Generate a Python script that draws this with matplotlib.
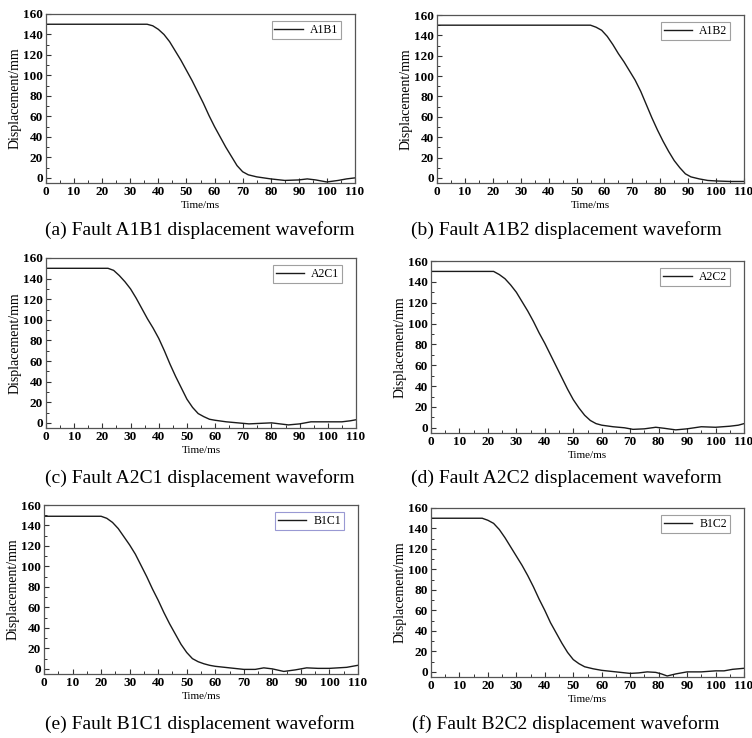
import numpy as np
import matplotlib.pyplot as plt
from matplotlib.ticker import MultipleLocator

plt.rcParams['font.family'] = ['Liberation Serif', 'DejaVu Serif']

# time (ms) / displacement (mm)
t_a1b1 = [0, 36, 38, 40, 42, 44, 46, 48, 50, 52, 54, 56, 58, 60, 62, 64, 66, 68, 70, 72, 75, 80, 85, 90, 93, 96, 100, 104, 107, 110]
d_a1b1 = [150, 150, 148.5, 145, 140, 133, 124, 115, 105, 95, 84, 73, 61, 50, 40, 30, 21, 12, 6, 3, 1, -1, -2.5, -2, -1, -2, -4, -2.5, -1, 0]

t_a1b2 = [0, 55, 57, 59, 61, 63, 65, 67, 69, 71, 73, 75, 77, 79, 81, 83, 85, 87, 89, 91, 94, 97, 100, 105, 110]
d_a1b2 = [150, 150, 148, 145, 139, 131, 122, 114, 105, 96, 85, 72, 59, 47, 36, 26, 17, 10, 4, 1, -1, -2.5, -3, -3.5, -3.5]

t_a2c1 = [0, 22, 24, 26, 28, 30, 32, 34, 36, 38, 40, 42, 44, 46, 48, 50, 52, 54, 56, 58, 60, 64, 68, 72, 76, 80, 83, 86, 90, 94, 100, 105, 108, 110]
d_a2c1 = [150, 150, 148, 143, 137, 130, 121, 111, 101, 92, 82, 70, 57, 45, 34, 23, 15, 9, 6, 3.5, 2.5, 1, 0, -1, -0.5, 0, -1, -2, -1, 1, 1, 1, 2, 3]

t_a2c2 = [0, 22, 24, 26, 28, 30, 32, 34, 36, 38, 40, 42, 44, 46, 48, 50, 52, 54, 56, 58, 60, 64, 68, 71, 75, 79, 82, 86, 90, 95, 100, 105, 108, 110]
d_a2c2 = [150, 150, 147, 143, 137, 130, 121, 112, 102, 91, 81, 70, 59, 48, 37, 27, 19, 12, 7, 4, 2.5, 1, 0, -1.5, -1, 0.5, -0.5, -2, -1, 1, 0.5, 1.5, 2.5, 4]

t_b1c1 = [0, 20, 22, 24, 26, 28, 30, 32, 34, 36, 38, 40, 42, 44, 46, 48, 50, 52, 54, 56, 58, 60, 65, 70, 74, 77, 80, 84, 88, 92, 96, 100, 106, 110]
d_b1c1 = [149, 149, 147, 143, 137, 129, 121, 112, 101, 90, 78, 67, 55, 44, 34, 24, 16, 10, 7, 5, 3.5, 2.5, 1, -0.5, -0.5, 1, 0, -2.5, -1, 1, 0.5, 0.5, 1.5, 3.5]

t_b1c2 = [0, 18, 20, 22, 24, 26, 28, 30, 32, 34, 36, 38, 40, 42, 44, 46, 48, 50, 52, 54, 57, 60, 65, 70, 73, 76, 79, 81, 83, 86, 90, 95, 100, 103, 106, 110]
d_b1c2 = [150, 150, 148, 145, 139, 131, 122, 113, 104, 94, 83, 71, 60, 48, 38, 28, 19, 12, 8, 5, 3, 1.5, 0, -1.5, -1, 0, -0.5, -2, -4, -2, 0, 0, 1, 1, 2.5, 3.5]

names = ['A1B1', 'A1B2', 'A2C1', 'A2C2', 'B1C1', 'B1C2']
captions = ['(a) Fault A1B1 displacement waveform', '(b) Fault A1B2 displacement waveform',
            '(c) Fault A2C1 displacement waveform', '(d) Fault A2C2 displacement waveform',
            '(e) Fault B1C1 displacement waveform', '(f) Fault B2C2 displacement waveform']
times = [t_a1b1, t_a1b2, t_a2c1, t_a2c2, t_b1c1, t_b1c2]
disps = [d_a1b1, d_a1b2, d_a2c1, d_a2c2, d_b1c1, d_b1c2]

W, H = 752, 738
# axes boxes in pixels: x0, y0 (top), x1, y1 (bottom)
boxes = [(46, 14, 355, 183), (437, 15, 744, 183),
         (46, 258, 356, 428), (431, 261, 744, 433),
         (44, 505, 358, 674), (431, 508, 744, 677)]
cap_x = [200, 566, 200, 566, 200, 566]
cap_y = [230, 230, 478, 478, 724, 724]
legend_edges = ['#888888', '#888888', '#888888', '#888888', '#8080c8', '#888888']

fig = plt.figure(figsize=(W / 100, H / 100), dpi=100)

for i in range(6):
	x0, y0, x1, y1 = boxes[i]
	ax = fig.add_axes([x0 / W, 1 - y1 / H, (x1 - x0) / W, (y1 - y0) / H])
	ax.plot(times[i], disps[i], color='#1a1a1a', lw=1.0, label=names[i])
	ax.set_xlim(0, 110)
	ax.set_ylim(-5, 160)
	ax.xaxis.set_major_locator(MultipleLocator(10))
	ax.xaxis.set_minor_locator(MultipleLocator(5))
	ax.yaxis.set_major_locator(MultipleLocator(20))
	ax.yaxis.set_minor_locator(MultipleLocator(10))
	ax.tick_params(which='both', direction='in', top=False, right=False, color='#333333')
	ax.tick_params(which='major', length=3.5, width=0.8, labelsize=9.5, pad=2)
	ax.tick_params(which='minor', length=2, width=0.7)
	for lab in ax.get_xticklabels() + ax.get_yticklabels():
		lab.set_fontweight('bold')
	for s in ax.spines.values():
		s.set_color('#555555')
		s.set_linewidth(0.9)
	ax.set_xlabel('Time/ms', fontsize=8, labelpad=2)
	ax.set_ylabel('Displacement/mm', fontsize=10, labelpad=1.5)
	leg = ax.legend(loc='upper right', bbox_to_anchor=(0.955, 0.96), fontsize=8.5, handlelength=2.4,
	                frameon=True, fancybox=False, borderpad=0.25, borderaxespad=0, handletextpad=0.6)
	leg.get_frame().set_edgecolor(legend_edges[i])
	leg.get_frame().set_linewidth(0.8)
	fig.text(cap_x[i] / W, 1 - cap_y[i] / H, captions[i], ha='center', va='center', fontsize=14)

plt.savefig('out.png', dpi=100)
